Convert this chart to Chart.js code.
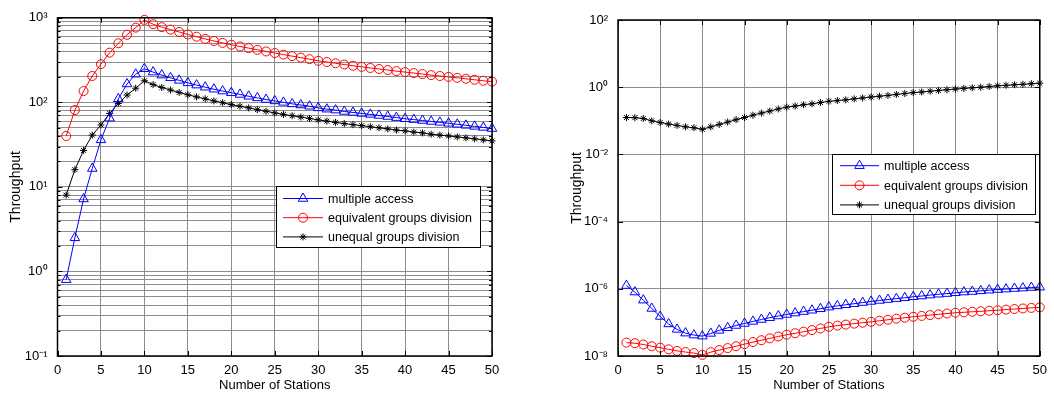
<!DOCTYPE html>
<html>
<head>
<meta charset="utf-8">
<script src="https://cdn.jsdelivr.net/npm/chart.js@4.4.0/dist/chart.umd.min.js"></script>
<style>
  html, body { margin: 0; padding: 0; background: #fff; }
  #wrap { position: relative; width: 1054px; height: 394px; }
  #c1 { position: absolute; left: 0; top: 0; }
  #c2 { position: absolute; left: 527px; top: 0; }
</style>
</head>
<body>
<div id="wrap">
  <canvas id="c1" width="527" height="394"></canvas>
  <canvas id="c2" width="527" height="394"></canvas>
</div>
<script>
'use strict';

// x categories
let stations = [1,2,3,4,5,6,7,8,9,10,11,12,13,14,15,16,17,18,19,20,21,22,23,24,25,
  26,27,28,29,30,31,32,33,34,35,36,37,38,39,40,41,42,43,44,45,46,47,48,49,50];
let xTicks = [0,5,10,15,20,25,30,35,40,45,50];
let leftDecades = [-1,0,1,2,3];
let rightDecades = [-8,-6,-4,-2,0,2];

let seriesNames = ['multiple access', 'equivalent groups division', 'unequal groups division'];

// left panel
let multipleAccessL = [0.8,2.5,7.2,16.5,36,65,110,165,215,250,
  228,210,195,182,170,160,151,143,136,130,
  124,118,113,108,104,100,96,93,90,86,
  83,81,78,76,74,72,70,68,66,64,
  62.5,61,59.5,58,56.5,55,53.5,52,50.5,49];
let equalGroupsL = [40,81,136,205,283,387,500,630,765,945,
  840,775,725,680,635,598,563,532,505,480,
  458,438,418,400,383,367,352,338,324,310,
  300,290,280,271,263,255,248,241,234,228,
  222,216,210,205,200,195,190,185,180,176];
let unequalGroupsL = [8,16,27,41,54,74,97,122,147,180,
  162,150,140,131,123,116,110,104,99,94,
  90,86,82,78.5,75,72,69.5,67,64.5,62,
  60,58,56,54.5,53,51.5,50,48.5,47,46,
  44.5,43.5,42,41,40,39,38,37,36,35];

// right panel
let multipleAccessR = [1.25e-6,8e-7,4.6e-7,2.6e-7,1.5e-7,9e-8,6.2e-8,4.8e-8,4.2e-8,3.9e-8,
  4.7e-8,5.8e-8,6.9e-8,8.1e-8,9.3e-8,1.07e-7,1.22e-7,1.38e-7,1.55e-7,1.72e-7,
  1.9e-7,2.1e-7,2.3e-7,2.55e-7,2.85e-7,3.1e-7,3.35e-7,3.6e-7,3.9e-7,4.2e-7,
  4.5e-7,4.8e-7,5.1e-7,5.4e-7,5.8e-7,6.1e-7,6.5e-7,6.9e-7,7.2e-7,7.6e-7,
  8e-7,8.3e-7,8.7e-7,9.1e-7,9.5e-7,9.8e-7,1.02e-6,1.05e-6,1.09e-6,1.12e-6];
let equalGroupsR = [2.5e-8,2.4e-8,2.2e-8,1.95e-8,1.77e-8,1.58e-8,1.42e-8,1.31e-8,1.22e-8,1.08e-8,
  1.3e-8,1.5e-8,1.72e-8,1.95e-8,2.25e-8,2.6e-8,2.95e-8,3.35e-8,3.8e-8,4.3e-8,
  4.75e-8,5.3e-8,5.9e-8,6.6e-8,7.4e-8,8e-8,8.6e-8,9.2e-8,9.8e-8,1.04e-7,
  1.12e-7,1.2e-7,1.29e-7,1.38e-7,1.47e-7,1.56e-7,1.65e-7,1.74e-7,1.84e-7,1.94e-7,
  2.0e-7,2.07e-7,2.14e-7,2.22e-7,2.3e-7,2.4e-7,2.5e-7,2.6e-7,2.7e-7,2.8e-7];
let unequalGroupsR = [0.125,0.124,0.117,0.1,0.089,0.08,0.073,0.066,0.062,0.056,
  0.066,0.078,0.092,0.108,0.125,0.147,0.17,0.195,0.225,0.255,
  0.275,0.3,0.32,0.35,0.38,0.4,0.42,0.45,0.48,0.51,
  0.54,0.57,0.61,0.65,0.69,0.72,0.76,0.8,0.84,0.88,
  0.92,0.96,1.0,1.05,1.1,1.14,1.18,1.22,1.27,1.32];

const FONT = '"Liberation Sans", Arial, Helvetica, sans-serif';
const colors = ['#0000ff', '#ff0000', '#000000'];
const markers = ['triangle', 'circle', 'star'];
const markerSize = [5.5, 4.5, 3.5];
const gridColor = '#8c8c8c';

const sup = {'-': '\u207B', '0': '\u2070', '1': '\u00B9', '2': '\u00B2', '3': '\u00B3',
  '4': '\u2074', '5': '\u2075', '6': '\u2076', '7': '\u2077', '8': '\u2078', '9': '\u2079'};

function isDecade(v) {
  let e = Math.log10(v);
  return Math.abs(e - Math.round(e)) < 1e-6;
}
function powLabel(v) {
  let e = String(Math.round(Math.log10(v)));
  return '10' + e.split('').map(c => sup[c]).join('');
}

function makeSet(i, values) {
  return {
    label: seriesNames[i],
    data: values.map((v, k) => ({ x: stations[k], y: v })),
    borderColor: colors[i],
    backgroundColor: 'rgba(0,0,0,0)',
    borderWidth: 1,
    pointStyle: markers[i],
    pointRadius: markerSize[i],
    pointBorderWidth: 1,
    pointBorderColor: colors[i],
    pointBackgroundColor: 'rgba(0,0,0,0)',
    tension: 0,
    clip: 10
  };
}

function drawMarker(ctx, style, r, x, y, color) {
  ctx.save();
  ctx.strokeStyle = color;
  ctx.lineWidth = 1;
  ctx.beginPath();
  if (style === 'circle') {
    ctx.arc(x, y, r, 0, Math.PI * 2);
  } else if (style === 'triangle') {
    for (let k = 0; k < 3; k++) {
      let a = k * 2 * Math.PI / 3;
      let px = x + Math.sin(a) * r, py = y - Math.cos(a) * r;
      if (k === 0) ctx.moveTo(px, py); else ctx.lineTo(px, py);
    }
    ctx.closePath();
  } else {
    for (let k = 0; k < 4; k++) {
      let a = k * Math.PI / 4;
      ctx.moveTo(x - Math.cos(a) * r, y - Math.sin(a) * r);
      ctx.lineTo(x + Math.cos(a) * r, y + Math.sin(a) * r);
    }
  }
  ctx.stroke();
  ctx.restore();
}

// axes box, inward tick marks and the legend (MATLAB look)
const framePlugin = {
  id: 'frame',
  afterDraw(chart, args, opts) {
    const { ctx, chartArea: a, scales } = chart;
    ctx.save();
    ctx.strokeStyle = '#000';
    ctx.lineWidth = 1;
    ctx.beginPath();
    scales.y.ticks.forEach(t => {
      let py = Math.round(scales.y.getPixelForValue(t.value)) + 0.5;
      let len = isDecade(t.value) ? 5 : 3;
      ctx.moveTo(a.left, py); ctx.lineTo(a.left + len, py);
      ctx.moveTo(a.right, py); ctx.lineTo(a.right - len, py);
    });
    scales.x.ticks.forEach(t => {
      let px = Math.round(scales.x.getPixelForValue(t.value)) + 0.5;
      ctx.moveTo(px, a.bottom); ctx.lineTo(px, a.bottom - 5);
      ctx.moveTo(px, a.top); ctx.lineTo(px, a.top + 5);
    });
    ctx.stroke();
    ctx.lineWidth = 1.5;
    ctx.strokeRect(a.left, a.top, a.right - a.left, a.bottom - a.top);

    // legend
    const L = opts.legend;
    ctx.fillStyle = '#fff';
    ctx.fillRect(L.x, L.y, L.w, L.h);
    ctx.lineWidth = 1;
    ctx.strokeStyle = '#000';
    ctx.strokeRect(L.x + 0.5, L.y + 0.5, L.w, L.h);
    ctx.font = '12.5px ' + FONT;
    ctx.textBaseline = 'middle';
    chart.data.datasets.forEach((ds, i) => {
      let y = L.y + L.first + i * L.gap;
      let x0 = L.x + L.lineStart, x1 = x0 + L.lineLen;
      ctx.strokeStyle = ds.borderColor;
      ctx.beginPath();
      ctx.moveTo(x0, y); ctx.lineTo(x1, y);
      ctx.stroke();
      drawMarker(ctx, ds.pointStyle, ds.pointRadius, (x0 + x1) / 2, y, ds.borderColor);
      ctx.fillStyle = '#000';
      ctx.fillText(ds.label, L.x + L.text, y + 1);
    });
    ctx.restore();
  }
};

function makeChart(canvas, sets, decades, every, pad, yWidth, legend) {
  const yMin = Math.pow(10, decades[0]);
  const yMax = Math.pow(10, decades[decades.length - 1]);
  return new Chart(canvas, {
    type: 'line',
    data: { datasets: sets },
    plugins: [framePlugin],
    options: {
      responsive: false,
      animation: false,
      events: [],
      layout: { padding: pad },
      plugins: {
        legend: { display: false },
        tooltip: { enabled: false },
        frame: { legend: legend }
      },
      scales: {
        x: {
          type: 'linear',
          min: 0, max: 50,
          afterBuildTicks: s => { s.ticks = xTicks.map(v => ({ value: v })); },
          afterFit: s => { s.height = 38; },
          grid: { color: gridColor, lineWidth: 1, drawTicks: false },
          border: { display: false },
          ticks: { color: '#000', font: { family: FONT, size: 13 }, padding: 7, maxRotation: 0, autoSkip: false },
          title: { display: true, text: 'Number of Stations', color: '#000',
            font: { family: FONT, size: 13 }, padding: { top: 0, bottom: 1 } }
        },
        y: {
          type: 'logarithmic',
          min: yMin, max: yMax,
          afterBuildTicks: s => {
            let t = [];
            decades.forEach((d, i) => {
              let b = Math.pow(10, d);
              if (every && i < decades.length - 1) {
                for (let m = 1; m < 10; m++) t.push({ value: m * b });
              } else {
                t.push({ value: b });
              }
            });
            s.ticks = t;
          },
          afterFit: s => { s.width = yWidth; },
          grid: { color: gridColor, lineWidth: 1, drawTicks: false },
          border: { display: false },
          ticks: {
            color: '#000', font: { family: FONT, size: 13 }, padding: 10, autoSkip: false,
            callback: v => isDecade(v) ? powLabel(v) : ''
          },
          title: { display: true, text: 'Throughput', color: '#000',
            font: { family: FONT, size: 14 }, padding: { top: 4, bottom: 4 } }
        }
      }
    }
  });
}

makeChart(document.getElementById('c1'),
  [makeSet(0, multipleAccessL), makeSet(1, equalGroupsL), makeSet(2, unequalGroupsL)],
  leftDecades, true,
  { left: 4, top: 15, right: 35, bottom: 0 }, 53.5,
  { x: 276, y: 186, w: 204, h: 61, first: 12.5, gap: 19.2, lineStart: 7, lineLen: 40, text: 52 });

makeChart(document.getElementById('c2'),
  [makeSet(0, multipleAccessR), makeSet(1, equalGroupsR), makeSet(2, unequalGroupsR)],
  rightDecades, false,
  { left: 37.5, top: 20, right: 7, bottom: 0 }, 53.5,
  { x: 305, y: 154, w: 203, h: 60, first: 11.7, gap: 19.6, lineStart: 8, lineLen: 39, text: 52 });
</script>
</body>
</html>
